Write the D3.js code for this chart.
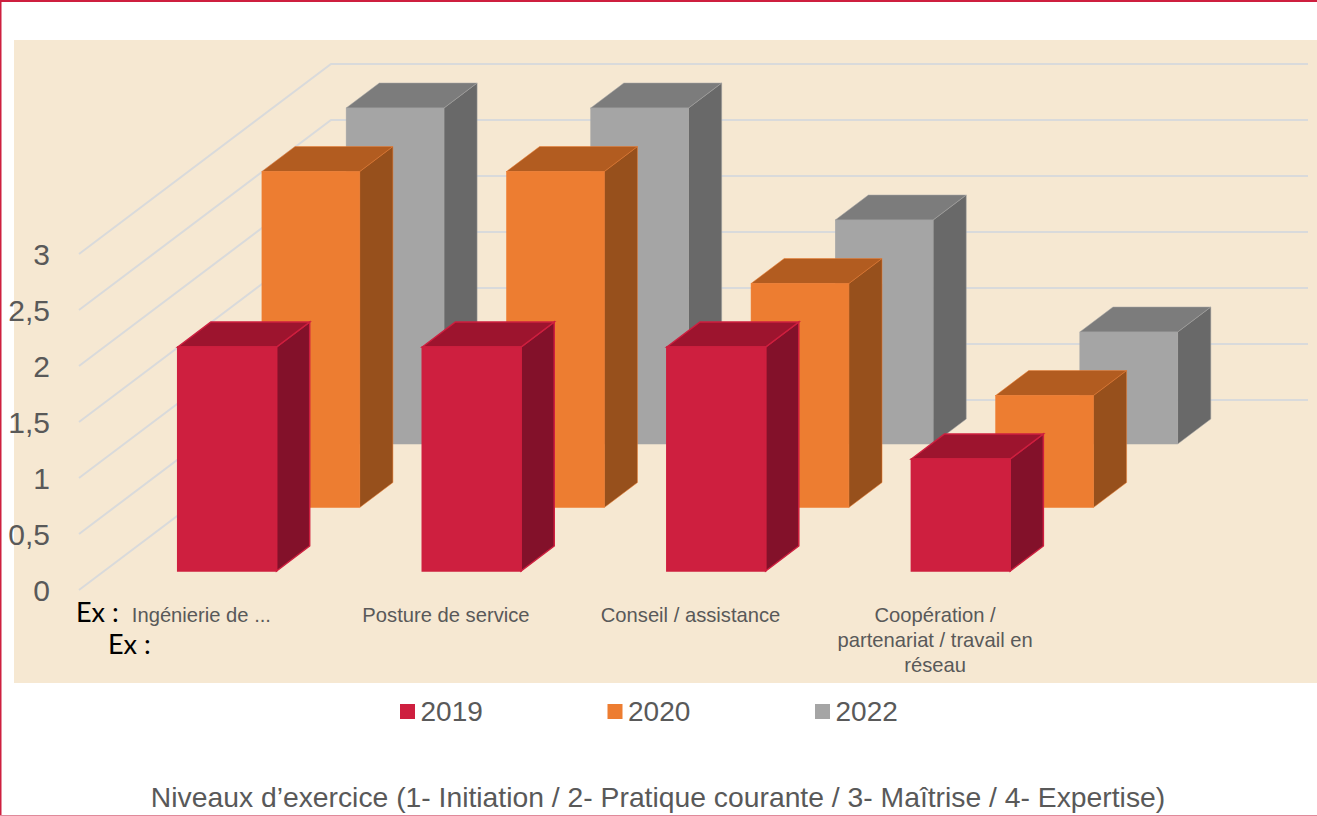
<!DOCTYPE html>
<html>
<head>
<meta charset="utf-8">
<script src="https://cdnjs.cloudflare.com/ajax/libs/d3/7.8.5/d3.min.js"></script>
<style>
	html, body {margin:0; padding:0; background:#fff; overflow:hidden;}
	svg {display:block;}
	text {font-family:"Liberation Sans", sans-serif; fill:#595959;}
</style>
</head>
<body>
<div id="chart"></div>
<script>

//data
const categories = ["Ingénierie de ...", "Posture de service", "Conseil / assistance", "Coopération / partenariat / travail en réseau"];
const categoryLines = [["Ingénierie de ..."], ["Posture de service"], ["Conseil / assistance"], ["Coopération /", "partenariat / travail en", "réseau"]];
const years = ["2019", "2020", "2022"];
const values2019 = [2, 2, 2, 1];
const values2020 = [3, 3, 2, 1];
const values2022 = [3, 3, 2, 1];
const yTicks = [0, 0.5, 1, 1.5, 2, 2.5, 3];
const exLabels = ["Ex :", "Ex :"];
const axisTitle = "Niveaux d’exercice (1- Initiation / 2- Pratique courante / 3- Maîtrise / 4- Expertise)";

const seriesValues = {"2019": values2019, "2020": values2020, "2022": values2022};

function graph(){

	const width = 1317;
	const height = 816;

	let svg = d3.select("#chart")
		.append("svg")
		.attr("width", width)
		.attr("height", height);

	//page frame
	svg.append("rect").attr("x", 0).attr("y", 0).attr("width", width).attr("height", 2).attr("fill", "#ce1f3f");
	svg.append("rect").attr("x", 0).attr("y", 0).attr("width", 1.5).attr("height", height).attr("fill", "#ce1f3f");
	svg.append("rect").attr("x", 0).attr("y", 815).attr("width", width).attr("height", 1).attr("fill", "#e08a9b");

	//chart background
	svg.append("rect")
		.attr("x", 14)
		.attr("y", 40)
		.attr("width", width - 14)
		.attr("height", 643)
		.attr("fill", "#f6e8d2");

	//oblique projection : depth goes up by 1px and right by skew px
	const skew = 252 / 190;
	const wallDepth = 190;

	let x = d3.scaleBand()
		.domain(categories)
		.range([152.5, 984])
		.paddingInner(0.6)
		.paddingOuter(0);

	let y = d3.scaleLinear()
		.domain([0, 3])
		.range([590, 254]);

	let depth = d3.scalePoint()
		.domain(years)
		.range([19, 146]);

	const barDepth = 25;

	let fillColor = d3.scaleOrdinal().domain(years).range(["#ce1f3f", "#ed7d31", "#a5a5a5"]);
	let topColor = d3.scaleOrdinal().domain(years).range(["#9d142e", "#b25c20", "#7c7c7c"]);
	let sideColor = d3.scaleOrdinal().domain(years).range(["#83112a", "#97501c", "#696969"]);
	//the front series is a bit wider, with a heavier outline
	let edgeWidth = d3.scaleOrdinal().domain(years).range([1.5, 0.5, 0.5]);
	let extraWidth = d3.scaleOrdinal().domain(years).range([1, 0, 0]);

	//gridlines on the side wall and the back wall
	const gridLeft = 79;
	svg.append("g")
		.selectAll("polyline")
		.data(yTicks)
		.enter()
		.append("polyline")
		.attr("points", (d) => [
			[gridLeft, y(d)],
			[gridLeft + wallDepth * skew, y(d) - wallDepth],
			[1308, y(d) - wallDepth]
		].join(" "))
		.attr("fill", "none")
		.attr("stroke", "#d9dadb")
		.attr("stroke-width", 2);

	//y axis
	let yAxis = d3.axisLeft(y)
		.tickValues(yTicks)
		.tickSize(0)
		.tickPadding(0)
		.tickFormat((d) => String(d).replace(".", ","));

	let yAxisG = svg.append("g")
		.attr("transform", "translate(50,1)")
		.call(yAxis);
	yAxisG.select(".domain").remove();
	yAxisG.selectAll("text")
		.attr("font-family", "Liberation Sans")
		.style("font-size", "30px")
		.attr("fill", "#595959");

	function face(points){
		return points.join(" ");
	}

	//back series first so the front ones cover them
	years.slice().reverse().forEach(function(year){

		let bars = categories.map((c, i) => {
			let z = depth(year);
			let x0 = x(c) + z * skew;
			let x1 = x0 + x.bandwidth() + extraWidth(year);
			let dx = barDepth * skew;
			let yBase = y(0) - z;
			let yTop = y(seriesValues[year][i]) - z;
			return {x0:x0, x1:x1, dx:dx, yBase:yBase, yTop:yTop};
		});

		let g = svg.append("g").attr("class", "series-" + year);

		g.selectAll(".side")
			.data(bars)
			.enter()
			.append("polygon")
			.attr("class", "side")
			.attr("points", (d) => face([
				[d.x1, d.yTop], [d.x1 + d.dx, d.yTop - barDepth],
				[d.x1 + d.dx, d.yBase - barDepth], [d.x1, d.yBase]
			]))
			.attr("fill", sideColor(year))
			.attr("stroke", fillColor(year))
			.attr("stroke-width", edgeWidth(year));

		g.selectAll(".top")
			.data(bars)
			.enter()
			.append("polygon")
			.attr("class", "top")
			.attr("points", (d) => face([
				[d.x0, d.yTop], [d.x0 + d.dx, d.yTop - barDepth],
				[d.x1 + d.dx, d.yTop - barDepth], [d.x1, d.yTop]
			]))
			.attr("fill", topColor(year))
			.attr("stroke", fillColor(year))
			.attr("stroke-width", edgeWidth(year));

		g.selectAll(".front")
			.data(bars)
			.enter()
			.append("rect")
			.attr("class", "front")
			.attr("x", (d) => d.x0)
			.attr("y", (d) => d.yTop)
			.attr("width", (d) => d.x1 - d.x0)
			.attr("height", (d) => d.yBase - d.yTop)
			.attr("fill", fillColor(year))
			.attr("stroke", fillColor(year))
			.attr("stroke-width", edgeWidth(year));
	});

	//category labels
	let labels = svg.append("g")
		.selectAll("text")
		.data(categories)
		.enter()
		.append("text")
		.attr("text-anchor", "middle")
		.attr("font-size", 20.2);

	labels.selectAll("tspan")
		.data((d, i) => categoryLines[i].map((l) => ({line:l, c:d})))
		.enter()
		.append("tspan")
		.attr("x", (d) => x(d.c) + x.bandwidth() / 2)
		.attr("y", (d, i) => 622 + i * 25)
		.text((d) => d.line);

	//the two stray labels
	svg.append("text").attr("x", 76).attr("y", 622).style("font-family", "Lato").attr("font-size", 27).style("fill", "#000").text(exLabels[0]);
	svg.append("text").attr("x", 108).attr("y", 654).style("font-family", "Lato").attr("font-size", 27).style("fill", "#000").text(exLabels[1]);

	//legend
	let legendX = d3.scalePoint().domain(years).range([400, 815]);

	let legend = svg.append("g")
		.selectAll("g")
		.data(years)
		.enter()
		.append("g")
		.attr("transform", (d) => "translate(" + legendX(d) + ",704)");

	legend.append("rect")
		.attr("width", 15)
		.attr("height", 15)
		.attr("fill", (d) => fillColor(d));

	legend.append("text")
		.attr("x", 20.5)
		.attr("y", 17)
		.attr("font-size", 28)
		.text((d) => d);

	//bottom title
	svg.append("text")
		.attr("x", 658)
		.attr("y", 807)
		.attr("text-anchor", "middle")
		.attr("font-size", 28.3)
		.text(axisTitle);
}

graph();
</script>
</body>
</html>
